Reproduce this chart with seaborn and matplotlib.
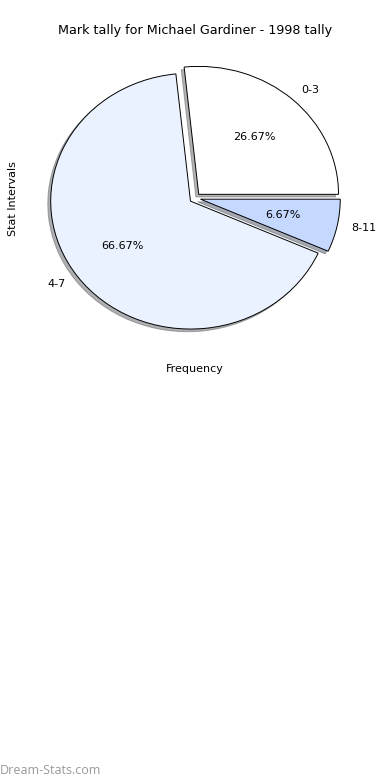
import seaborn as sns
from matplotlib import pyplot as plt

# Mark tally intervals and how often each came up
intervals = ['0-3', '4-7', '8-11']
frequency = [4, 10, 1]
slice_colors = ['#FFFFFF', '#EBF2FF', '#C5D8FF']

sns.set_theme(style="white")
plt.rcParams['font.family'] = ['DejaVu Sans']
plt.rcParams['text.color'] = 'black'
plt.rcParams['axes.labelcolor'] = 'black'

fig = plt.figure(figsize=(3.9, 7.8), dpi=100)
ax = fig.add_axes([0.052, 0.541, 0.896, 0.41])

ax.pie(frequency, labels=intervals, colors=slice_colors,
       explode=[0.04, 0.04, 0.04], autopct='%.2f%%',
       shadow={'ox': -0.015, 'oy': -0.015, 'shade': 0.6},
       wedgeprops={'edgecolor': 'black', 'linewidth': 0.7},
       textprops={'fontsize': 8, 'color': 'black'})
ax.set_aspect('auto')
ax.set_xlim(-1.25, 1.25)
ax.set_ylim(-1.25, 1.25)

ax.set_title("Mark tally for Michael Gardiner - 1998 tally", fontsize=9.2,
             color='black', pad=3)
ax.set_xlabel("Frequency", fontsize=8)
ax.set_ylabel("Stat Intervals", fontsize=8, labelpad=2)

fig.text(0.0, 0.008, "Dream-Stats.com", color='#999999', fontsize=9,
         family=['Open Sans', 'DejaVu Sans'])

fig.savefig("out.png", dpi=100)
